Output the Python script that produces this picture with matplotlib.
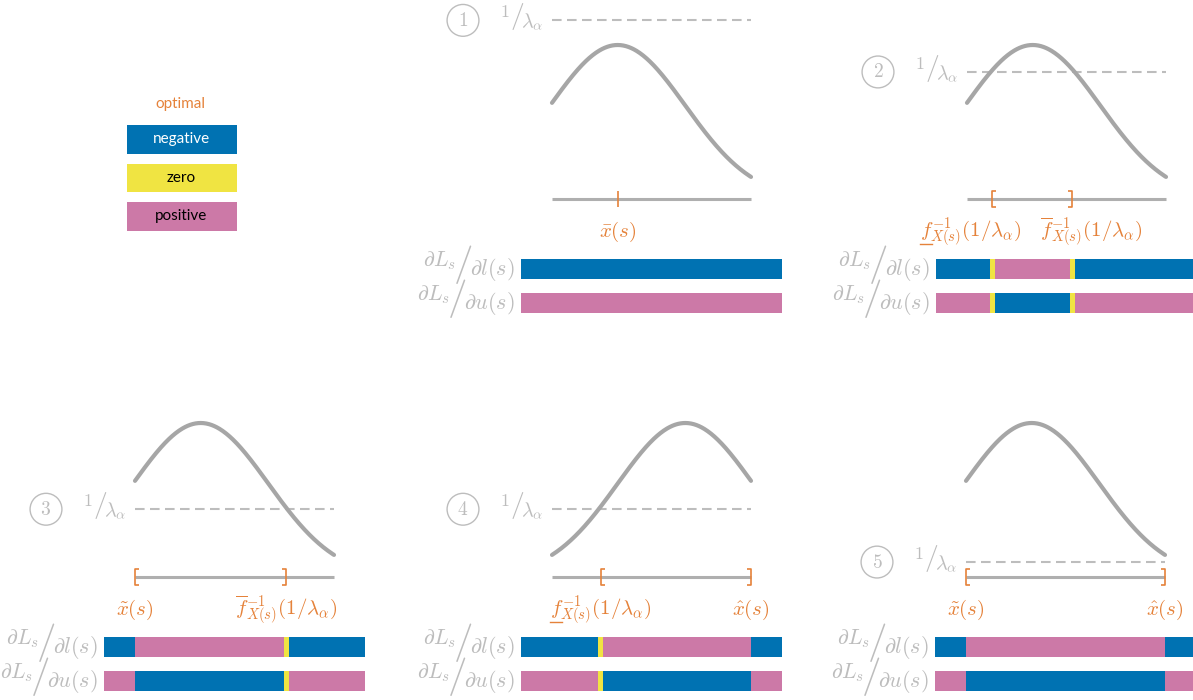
import numpy as np
import matplotlib
matplotlib.use("Agg")
import matplotlib.pyplot as plt
from matplotlib.path import Path
from matplotlib.lines import Line2D

plt.rcParams["mathtext.fontset"] = "cm"

# ---------------------------------------------------------------- data
panel_ids = ["1", "2", "3", "4", "5"]
# density shape on the support [0, 1]: location of the mode, common spread
modes = [0.33, 0.33, 0.33, 0.67, 0.33]
spread = 0.34
# height of the 1/lambda_alpha level (density at the mode = 1)
levels = [1.16, 0.825, 0.44, 0.44, 0.097]
# optimal interval [lower, upper] (None = no interval, mode shown instead)
lower_ends = [None, 0.126, 0.0, 0.246, 0.0]
upper_ends = [None, 0.528, 0.759, 1.0, 1.0]
# whether an interval end is a crossing of the level (zero gradient there)
lower_is_crossing = [False, True, False, True, False]
upper_is_crossing = [False, True, True, False, False]

F_LOW = r"$f^{-1}_{X(s)}(1/\lambda_\alpha)$"          # f drawn underlined
F_UP = r"$\overline{f}^{-1}_{X(s)}(1/\lambda_\alpha)$"
TILDE_X = r"$\tilde{x}(s)$"
HAT_X = r"$\hat{x}(s)$"
BAR_X = r"$\bar{x}(s)$"
lower_labels = [None, F_LOW, TILDE_X, F_LOW, TILDE_X]
upper_labels = [None, F_UP, F_UP, HAT_X, HAT_X]

row_numerator = r"$\partial L_s$"
row_denominators = [r"$\partial l(s)$", r"$\partial u(s)$"]
level_numerator, level_denominator = r"$1$", r"$\lambda_\alpha$"

legend_names = ["negative", "zero", "positive"]

# ---------------------------------------------------------------- style
BLUE, YELLOW, PINK = "#0072B2", "#F0E442", "#CC79A7"
ORANGE = "#E5823A"
CURVE = "#A6A6A6"
LIGHT = "#BDBDBD"
sign_colors = {-1: BLUE, 0: YELLOW, 1: PINK}

W, H, DPI = 1193, 700, 100
UNIT = 154.0          # pixels per unit of density
SUPPORT_W = 199.0     # pixels of the support [0, 1]
PAD = 31.0            # bars reach this far beyond the support
ZERO_W = 0.025        # width of a zero-gradient strip (support units)

# panel anchors: left end of the support line and its height (pixels from top)
anchors = [(552, 199), (967, 199), (135, 577), (552, 577), (966, 577)]
label_shift = [None, (-21, 19), (0, 0), (0, 0), (0, 0)]


def fig_rect(left_px, top_px, w_px, h_px):
    return [left_px / W, 1 - (top_px + h_px) / H, w_px / W, h_px / H]


def density(x, mode):
    return np.exp(-0.5 * ((x - mode) / spread) ** 2)


def gradient_segments(lo, hi, lo_zero, hi_zero):
    """Sign of dL/dl along the bar: negative outside, positive inside."""
    left, right = -PAD / SUPPORT_W, 1 + PAD / SUPPORT_W
    if lo is None:
        return [(left, right, -1)]
    segs = []
    pos = left
    h = ZERO_W / 2
    if lo_zero:
        segs += [(pos, lo - h, -1), (lo - h, lo + h, 0)]
        pos = lo + h
    else:
        segs += [(pos, lo, -1)]
        pos = lo
    if hi_zero:
        segs += [(pos, hi - h, 1), (hi - h, hi + h, 0)]
        pos = hi + h
    else:
        segs += [(pos, hi, 1)]
        pos = hi
    segs += [(pos, right, -1)]
    return segs


fig = plt.figure(figsize=(W / DPI, H / DPI), dpi=DPI)
RENDERER = fig.canvas.get_renderer()


def nicefrac(ax, xy, xycoords, num, den, dx, sizes, rises, gaps, color):
    """Slanted fraction num/den, right-aligned dx pixels from xy."""
    num_pt, slash_pt, den_pt = sizes
    num_rise, slash_rise, den_drop = rises
    gap_num, gap_den = gaps
    kw = dict(xy=xy, xycoords=xycoords, textcoords="offset pixels",
              color=color, ha="right", annotation_clip=False)
    t_den = ax.annotate(den, xytext=(dx, -den_drop), va="baseline",
                        fontsize=den_pt, **kw)
    wd = t_den.get_window_extent(RENDERER).width
    x_sl = dx - wd + gap_den
    t_sl = ax.annotate(r"$/$", xytext=(x_sl, slash_rise), va="center",
                       fontsize=slash_pt, **kw)
    ws = t_sl.get_window_extent(RENDERER).width
    ax.annotate(num, xytext=(x_sl - ws + gap_num, num_rise), va="baseline",
                fontsize=num_pt, **kw)


def underline_start(text, length=12, lift=5):
    """Short rule under the first glyph of a text."""
    bb = text.get_window_extent(RENDERER)
    fig.add_artist(Line2D([bb.x0, bb.x0 + length], [bb.y0 + lift] * 2,
                          transform=None, color=text.get_color(), lw=1.0))


bracket_open = Path([(0.45, -1), (0, -1), (0, 1), (0.45, 1)],
                    [Path.MOVETO, Path.LINETO, Path.LINETO, Path.LINETO])
bracket_close = Path([(-0.45, -1), (0, -1), (0, 1), (-0.45, 1)],
                     [Path.MOVETO, Path.LINETO, Path.LINETO, Path.LINETO])

for i in range(5):
    x0, y0 = anchors[i]
    ylo, yhi = -0.1, 1.25
    ax = fig.add_axes(fig_rect(x0, y0 - yhi * UNIT, SUPPORT_W,
                               (yhi - ylo) * UNIT))
    ax.set_xlim(0, 1)
    ax.set_ylim(ylo, yhi)
    ax.axis("off")

    xs = np.linspace(0, 1, 300)
    ax.plot(xs, density(xs, modes[i]), color=CURVE, lw=3.0,
            solid_capstyle="round", clip_on=False, zorder=3)
    ax.plot([0, 1], [0, 0], color=CURVE, lw=2.2, alpha=0.9,
            solid_capstyle="butt", clip_on=False, zorder=2)
    ax.plot([0, 1], [levels[i], levels[i]], color=LIGHT, lw=1.5,
            linestyle=(0, (4.6, 2.6)), clip_on=False, zorder=1)

    nicefrac(ax, (0, levels[i]), "data", level_numerator, level_denominator,
             dx=-9, sizes=(13, 20, 14.5), rises=(3, 3.5, 7), gaps=(-1, 4),
             color=LIGHT)
    ax.annotate("$" + panel_ids[i] + "$", xy=(0, levels[i]),
                xytext=(-89, 0), textcoords="offset pixels",
                ha="center", va="center", fontsize=14, color=LIGHT,
                bbox=dict(boxstyle="circle,pad=0.33", fc="none",
                          ec=LIGHT, lw=1.0))

    lo, hi = lower_ends[i], upper_ends[i]
    if lo is None:
        ax.plot([modes[i]], [0], marker="|", ms=12, mew=1.2,
                color=ORANGE, clip_on=False, zorder=4)
        ax.annotate(BAR_X, xy=(modes[i], 0), xytext=(0, -33),
                    textcoords="offset pixels", ha="center", va="center",
                    fontsize=15, color=ORANGE)
    else:
        ax.plot([lo], [0], marker=bracket_open, ms=11.5, mew=1.2,
                color=ORANGE, fillstyle="none", clip_on=False, zorder=4)
        ax.plot([hi], [0], marker=bracket_close, ms=11.5, mew=1.2,
                color=ORANGE, fillstyle="none", clip_on=False, zorder=4)
        dl, du = label_shift[i]
        t_lo = ax.annotate(lower_labels[i], xy=(lo, 0), xytext=(dl, -33),
                           textcoords="offset pixels", ha="center",
                           va="center", fontsize=15, color=ORANGE)
        if lower_labels[i] == F_LOW:
            underline_start(t_lo)
        ax.annotate(upper_labels[i], xy=(hi, 0), xytext=(du, -33),
                    textcoords="offset pixels", ha="center", va="center",
                    fontsize=15, color=ORANGE)

    # gradient sign bars: dL/dl on row 0, dL/du (opposite sign) on row 1
    bx = fig.add_axes(fig_rect(x0 - PAD, y0 + 53, SUPPORT_W + 2 * PAD, 68))
    bx.set_xlim(-PAD / SUPPORT_W, 1 + PAD / SUPPORT_W)
    bx.set_ylim(1.5, -0.5)
    bx.axis("off")
    segs = gradient_segments(lo, hi, lower_is_crossing[i],
                             upper_is_crossing[i])
    for row, flip in ((0, 1), (1, -1)):
        for a, b, s in segs:
            bx.barh(row, b - a, left=a, height=0.59,
                    color=sign_colors[s * flip], linewidth=0)
        nicefrac(bx, (0, row), ("axes fraction", "data"), row_numerator,
                 row_denominators[row], dx=-6, sizes=(15.5, 28, 16),
                 rises=(3, 4, 6), gaps=(3, 2), color=LIGHT)

# legend
lx = fig.add_axes(fig_rect(126.5, 120.25, 110, 115.5))
lx.set_xlim(0, 1)
lx.set_ylim(2.5, -0.5)
lx.axis("off")
legend_colors = [BLUE, YELLOW, PINK]
legend_text = ["white", "black", "black"]
for k, name in enumerate(legend_names):
    lx.barh(k, 1, left=0, height=0.75, color=legend_colors[k], linewidth=0)
    lx.text(0.5, k, name, ha="center", va="center", fontsize=11,
            family="Lato", color=legend_text[k])
lx.text(0.49, -0.93, "optimal", ha="center", va="center", fontsize=11,
        family="Lato", color=ORANGE, clip_on=False)

fig.savefig("out.png", dpi=DPI)
